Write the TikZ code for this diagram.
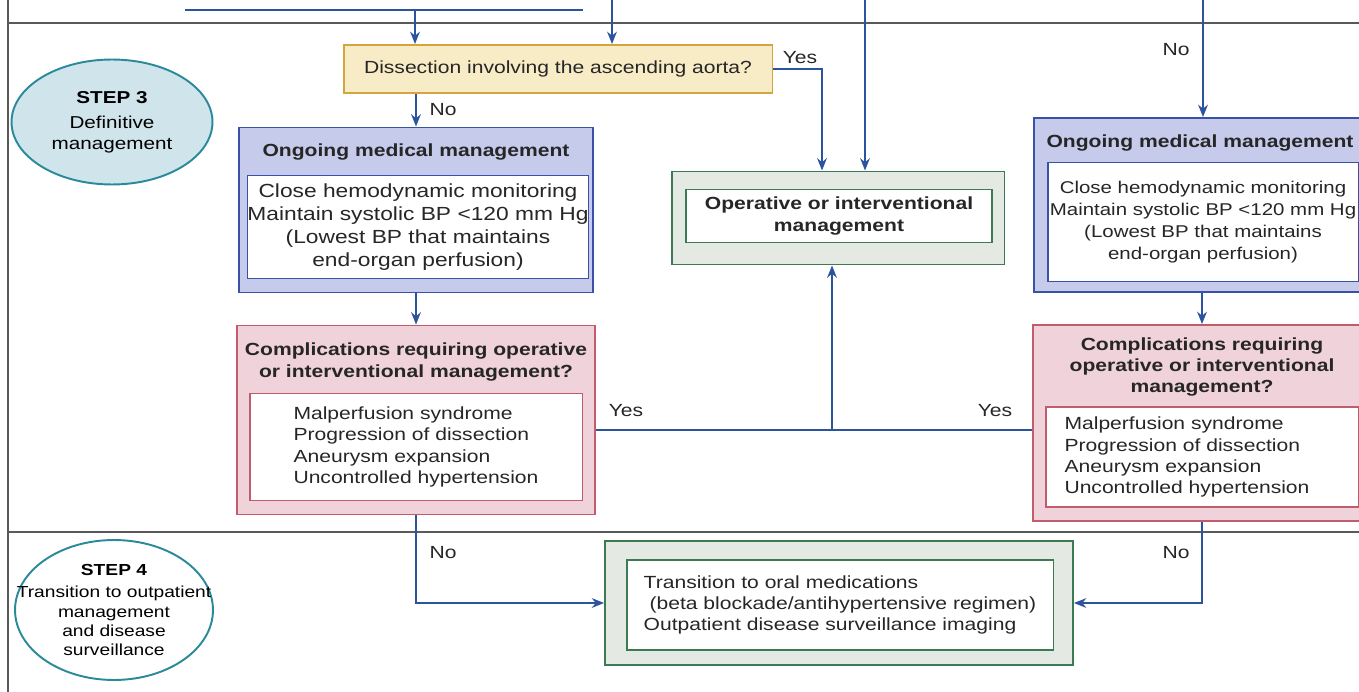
\documentclass[tikz,border=0pt]{standalone}
\usepackage{fontspec}
\setmainfont{Liberation Sans}[FakeStretch=1.2]
\usetikzlibrary{shapes.geometric,arrows.meta}
\definecolor{flowblue}{RGB}{44,84,158}
\definecolor{stepfill}{RGB}{208,228,236}
\definecolor{stepline}{RGB}{42,138,154}
\definecolor{qfill}{RGB}{248,236,198}
\definecolor{qline}{RGB}{212,164,62}
\definecolor{medfill}{RGB}{198,203,236}
\definecolor{medline}{RGB}{58,82,166}
\definecolor{cxfill}{RGB}{240,210,218}
\definecolor{cxline}{RGB}{192,92,108}
\definecolor{opfill}{RGB}{228,233,228}
\definecolor{opline}{RGB}{60,122,84}
\begin{document}
\begin{tikzpicture}[x=0.02cm,y=-0.02cm,
  flow/.style={flowblue,line width=1.1pt},
  arr/.style={flow,-{Stealth[length=7pt,width=5.5pt]}},
  lbl/.style={font=\fontsize{10}{12}\selectfont,text=black!85},
  ttl/.style={font=\fontsize{10}{12}\selectfont\bfseries,align=center,text=black!85},
  stepbox/.style={ellipse,draw=stepline,fill=stepfill,line width=1.1pt,inner sep=0pt,
    align=center,font=\fontsize{9.8}{11.5}\selectfont,minimum width=4.02cm,minimum height=2.5cm},
  outbox/.style={draw=#1,line width=1.1pt,inner sep=0pt},
  inbox/.style={draw=#1,fill=white,line width=1.1pt,inner sep=0pt,align=center,text=black!85}]
\useasboundingbox (0,0) rectangle (1359,692);
\clip (0,0) rectangle (1359,692);
% swim lanes
\draw[black!65,line width=0.7pt] (8,0) -- (8,692);
\draw[black!65,line width=0.7pt] (8,23) -- (1359,23);
\draw[black!65,line width=0.7pt] (8,532) -- (1359,532);

\node[stepbox] (s3) at (112,122) {\textbf{STEP 3}\\[3pt]Definitive\\management};
\node[stepbox,fill=white,font=\fontsize{9.1}{11}\selectfont,minimum width=3.96cm,minimum height=2.8cm,
  inner xsep=-0.6cm,inner ysep=-0.2cm] (s4) at (114,610)
  {\textbf{STEP 4}\\[2pt]Transition to outpatient\\management\\and disease\\surveillance};

% question
\node[outbox=qline,fill=qfill,minimum width=8.58cm,minimum height=0.96cm,lbl] (dq) at (558,69)
  {Dissection involving the ascending aorta?};

% left column
\node[outbox=medline,fill=medfill,minimum width=7.08cm,minimum height=3.3cm] (lmed) at (416,210) {};
\node[ttl] (lmedt) at (416,152) {Ongoing medical management};
\node[inbox=medline,minimum width=6.6cm,minimum height=2.06cm,font=\fontsize{10.8}{13}\selectfont] (lmedin) at (418,227)
  {Close hemodynamic monitoring\\Maintain systolic BP <120 mm Hg\\(Lowest BP that maintains\\end-organ perfusion)};

\node[outbox=cxline,fill=cxfill,minimum width=7.16cm,minimum height=3.78cm] (lcx) at (416,420) {};
\node[ttl] (lcxt) at (416,362) {Complications requiring operative\\or interventional management?};
\node[inbox=cxline,minimum width=6.66cm,minimum height=2.14cm,align=left,font=\fontsize{10}{12.3}\selectfont] (lcxin) at (416,447)
  {Malperfusion syndrome\\Progression of dissection\\Aneurysm expansion\\Uncontrolled hypertension};

% operative
\node[outbox=opline,fill=opfill,minimum width=6.66cm,minimum height=1.86cm] (op) at (838,218) {};
\node[inbox=opline,minimum width=6.12cm,minimum height=1.06cm,font=\fontsize{10}{12}\selectfont\bfseries] (opin) at (839,216)
  {Operative or interventional\\management};

% right column
\node[outbox=medline,fill=medfill,minimum width=6.72cm,minimum height=3.48cm] (rmed) at (1202,205) {};
\node[ttl] (rmedt) at (1200,143) {Ongoing medical management};
\node[inbox=medline,minimum width=6.22cm,minimum height=2.38cm,font=\fontsize{9.7}{12.6}\selectfont] (rmedin) at (1203,222)
  {Close hemodynamic monitoring\\Maintain systolic BP <120 mm Hg\\(Lowest BP that maintains\\end-organ perfusion)};

\node[outbox=cxline,fill=cxfill,minimum width=6.76cm,minimum height=3.92cm] (rcx) at (1202,423) {};
\node[ttl] (rcxt) at (1202,367) {Complications requiring\\operative or interventional\\management?};
\node[inbox=cxline,minimum width=6.26cm,minimum height=2.0cm,text width=5.5cm,align=left,font=\fontsize{10}{12}\selectfont] (rcxin) at (1202,457)
  {Malperfusion syndrome\\Progression of dissection\\Aneurysm expansion\\Uncontrolled hypertension};

% follow up
\node[outbox=opline,fill=opfill,minimum width=9.36cm,minimum height=2.48cm] (fu) at (839,603) {};
\node[inbox=opline,minimum width=8.54cm,minimum height=1.8cm,align=left,font=\fontsize{10}{12}\selectfont] (fuin) at (840,605)
  {Transition to oral medications\\\ (beta blockade/antihypertensive regimen)\\Outpatient disease surveillance imaging};

% incoming lines
\coordinate (tl) at (185,10);
\coordinate (tr) at (583,10);
\coordinate (t1) at (415,10);
\coordinate (t2) at (612,0);
\coordinate (t3) at (865,0);
\coordinate (t4) at (1203,0);
\draw[flow] (tl) -- (tr);
\draw[arr] (t1) -- (t1 |- dq.north);
\draw[arr] (t2) -- (t2 |- dq.north);
\draw[arr] (t3) -- (t3 |- op.north);
\draw[arr] (t4) -- (t4 |- rmed.north);

% flow
\coordinate (ya) at (822,69);
\draw[arr] (dq.east) -| (ya |- op.north);
\draw[arr] (dq.south -| lmed.north) -- (lmed.north);
\draw[arr] (lmed.south) -- (lcx.north);
\draw[arr] (rmed.south) -- (rcx.north);
\coordinate (yj) at (832,430);
\draw[flow] (lcx.east |- yj) -- (rcx.west |- yj);
\draw[arr] (yj) -- (yj |- op.south);
\draw[arr] (lcx.south) |- (fu.west);
\draw[arr] (rcx.south) |- (fu.east);

% labels
\node[lbl] (yes1) at (800,58) {Yes};
\node[lbl] (no1) at (443,110) {No};
\node[lbl] (no2) at (1176,50) {No};
\node[lbl] (yes2) at (626,411) {Yes};
\node[lbl] (yes3) at (995,411) {Yes};
\node[lbl] (no3) at (443,553) {No};
\node[lbl] (no4) at (1176,553) {No};
\end{tikzpicture}
\end{document}
